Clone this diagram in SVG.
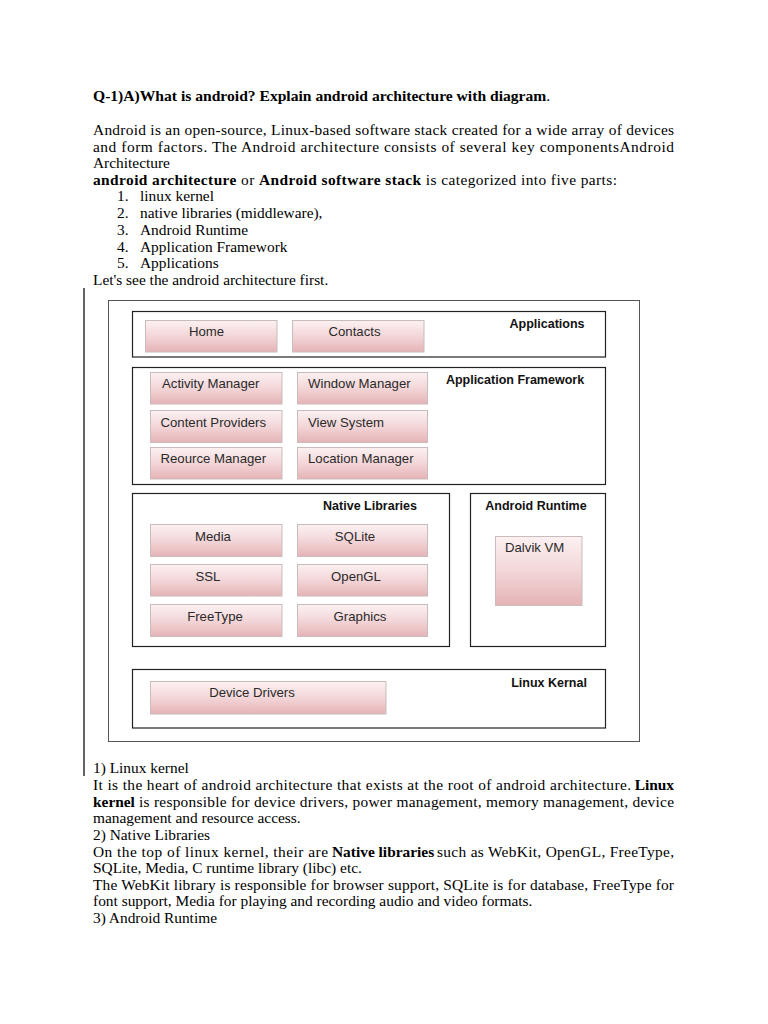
<svg xmlns="http://www.w3.org/2000/svg" width="768" height="1024" viewBox="0 0 768 1024">
<defs>
<linearGradient id="pink" x1="0" y1="0" x2="0" y2="1">
<stop offset="0" stop-color="#fcf1f2"/>
<stop offset="0.5" stop-color="#f3d6d8"/>
<stop offset="1" stop-color="#e5b3b6"/>
</linearGradient>
<style>
.body{font-family:"Liberation Serif","Times New Roman",serif;font-size:15.4px;fill:#000}
.b{font-weight:bold}
.box{fill:#fff;stroke:#222;stroke-width:1.2}
.btn{fill:url(#pink);stroke:#c9bcbc;stroke-width:1}
.bl{font-family:"Liberation Sans",Arial,sans-serif;font-size:13.2px;fill:#2a2a2a}
.hl{font-family:"Liberation Sans",Arial,sans-serif;font-size:12.5px;font-weight:bold;fill:#111}
</style>
</defs>
<rect width="768" height="1024" fill="#fff"/>

<g id="text-top" class="body">
<text x="93" y="101" style="font-size:15.6px"><tspan class="b">Q-1)A)What is android? Explain android architecture with diagram</tspan>.</text>
<text x="93" y="135" textLength="581" lengthAdjust="spacing">Android is an open-source, Linux-based software stack created for a wide array of devices</text>
<text x="93" y="152" textLength="581" lengthAdjust="spacing">and form factors. The Android architecture consists of several key componentsAndroid</text>
<text x="93" y="168">Architecture</text>
<text x="93" y="185" textLength="524" lengthAdjust="spacing"><tspan class="b">android architecture</tspan> or <tspan class="b">Android software stack</tspan> is categorized into five parts:</text>
<text x="117" y="201">1.</text><text x="140" y="201">linux kernel</text>
<text x="117" y="218">2.</text><text x="140" y="218">native libraries (middleware),</text>
<text x="117" y="235">3.</text><text x="140" y="235">Android Runtime</text>
<text x="117" y="252">4.</text><text x="140" y="252">Application Framework</text>
<text x="117" y="268">5.</text><text x="140" y="268">Applications</text>
<text x="93" y="285">Let's see the android architecture first.</text>
</g>

<line x1="84" y1="288" x2="84" y2="776" stroke="#111" stroke-width="1.3"/>

<rect id="frame" x="108.5" y="300.5" width="531" height="441" fill="#fff" stroke="#555" stroke-width="1"/>

<g id="applications">
<rect class="box" x="132.5" y="311.5" width="473" height="45.5"/>
<text class="hl" x="547" y="328" text-anchor="middle">Applications</text>
</g>
<g id="home"><rect class="btn" x="145.5" y="320.5" width="131.5" height="31.5"/><text class="bl" x="206.5" y="336" text-anchor="middle">Home</text></g>
<g id="contacts"><rect class="btn" x="292.5" y="320.5" width="131.5" height="31.5"/><text class="bl" x="354.5" y="336" text-anchor="middle">Contacts</text></g>

<g id="application-framework">
<rect class="box" x="132.5" y="367.5" width="473" height="117"/>
<text class="hl" x="515" y="384" text-anchor="middle">Application Framework</text>
</g>
<g id="activity-manager"><rect class="btn" x="150.5" y="372.5" width="131.5" height="31.5"/><text class="bl" x="162" y="388">Activity Manager</text></g>
<g id="window-manager"><rect class="btn" x="297.5" y="372.5" width="130" height="31.5"/><text class="bl" x="308" y="388">Window Manager</text></g>
<g id="content-providers"><rect class="btn" x="150.5" y="410.5" width="131.5" height="32"/><text class="bl" x="160.5" y="427">Content Providers</text></g>
<g id="view-system"><rect class="btn" x="297.5" y="410.5" width="130" height="32"/><text class="bl" x="308" y="427">View System</text></g>
<g id="resource-manager"><rect class="btn" x="150.5" y="447.5" width="131.5" height="31.5"/><text class="bl" x="160.5" y="463">Reource Manager</text></g>
<g id="location-manager"><rect class="btn" x="297.5" y="447.5" width="130" height="31.5"/><text class="bl" x="308" y="463">Location Manager</text></g>

<g id="native-libraries">
<rect class="box" x="132.5" y="493.5" width="317" height="153"/>
<text class="hl" x="370" y="510" text-anchor="middle">Native Libraries</text>
</g>
<g id="media"><rect class="btn" x="150.5" y="524.5" width="131.5" height="32"/><text class="bl" x="213" y="541" text-anchor="middle">Media</text></g>
<g id="sqlite"><rect class="btn" x="297.5" y="524.5" width="130" height="32"/><text class="bl" x="355" y="541" text-anchor="middle">SQLite</text></g>
<g id="ssl"><rect class="btn" x="150.5" y="564.5" width="131.5" height="31.5"/><text class="bl" x="208" y="581" text-anchor="middle">SSL</text></g>
<g id="opengl"><rect class="btn" x="297.5" y="564.5" width="130" height="31.5"/><text class="bl" x="356" y="581" text-anchor="middle">OpenGL</text></g>
<g id="freetype"><rect class="btn" x="150.5" y="604.5" width="131.5" height="32"/><text class="bl" x="215" y="621" text-anchor="middle">FreeType</text></g>
<g id="graphics"><rect class="btn" x="297.5" y="604.5" width="130" height="32"/><text class="bl" x="360" y="621" text-anchor="middle">Graphics</text></g>

<g id="android-runtime">
<rect class="box" x="470.5" y="493.5" width="135" height="153"/>
<text class="hl" x="536" y="510" text-anchor="middle">Android Runtime</text>
</g>
<g id="dalvik-vm"><rect class="btn" x="495.5" y="536.5" width="86.5" height="69"/><text class="bl" x="505" y="552">Dalvik VM</text></g>

<g id="linux-kernel">
<rect class="box" x="132.5" y="669.5" width="473" height="58.5"/>
<text class="hl" x="549" y="687" text-anchor="middle">Linux Kernal</text>
</g>
<g id="device-drivers"><rect class="btn" x="150.5" y="681.5" width="235.5" height="32.5"/><text class="bl" x="252" y="697" text-anchor="middle">Device Drivers</text></g>

<g id="connectors"></g>

<g id="text-bottom" class="body">
<text x="93" y="773">1) Linux kernel</text>
<text x="93" y="790" textLength="538" lengthAdjust="spacing">It is the heart of android architecture that exists at the root of android architecture.</text>
<text class="b" x="674" y="790" text-anchor="end">Linux</text>
<text class="b" x="93" y="807">kernel</text>
<text x="139" y="807" textLength="535" lengthAdjust="spacing">is responsible for device drivers, power management, memory management, device</text>
<text x="93" y="823">management and resource access.</text>
<text x="93" y="840">2) Native Libraries</text>
<text x="93" y="857" textLength="235" lengthAdjust="spacing">On the top of linux kernel, their are</text>
<text class="b" x="332" y="857">Native libraries</text>
<text x="437" y="857" textLength="237" lengthAdjust="spacing">such as WebKit, OpenGL, FreeType,</text>
<text x="93" y="873">SQLite, Media, C runtime library (libc) etc.</text>
<text x="93" y="890" textLength="581" lengthAdjust="spacing">The WebKit library is responsible for browser support, SQLite is for database, FreeType for</text>
<text x="93" y="906">font support, Media for playing and recording audio and video formats.</text>
<text x="93" y="923">3) Android Runtime</text>
</g>
</svg>
